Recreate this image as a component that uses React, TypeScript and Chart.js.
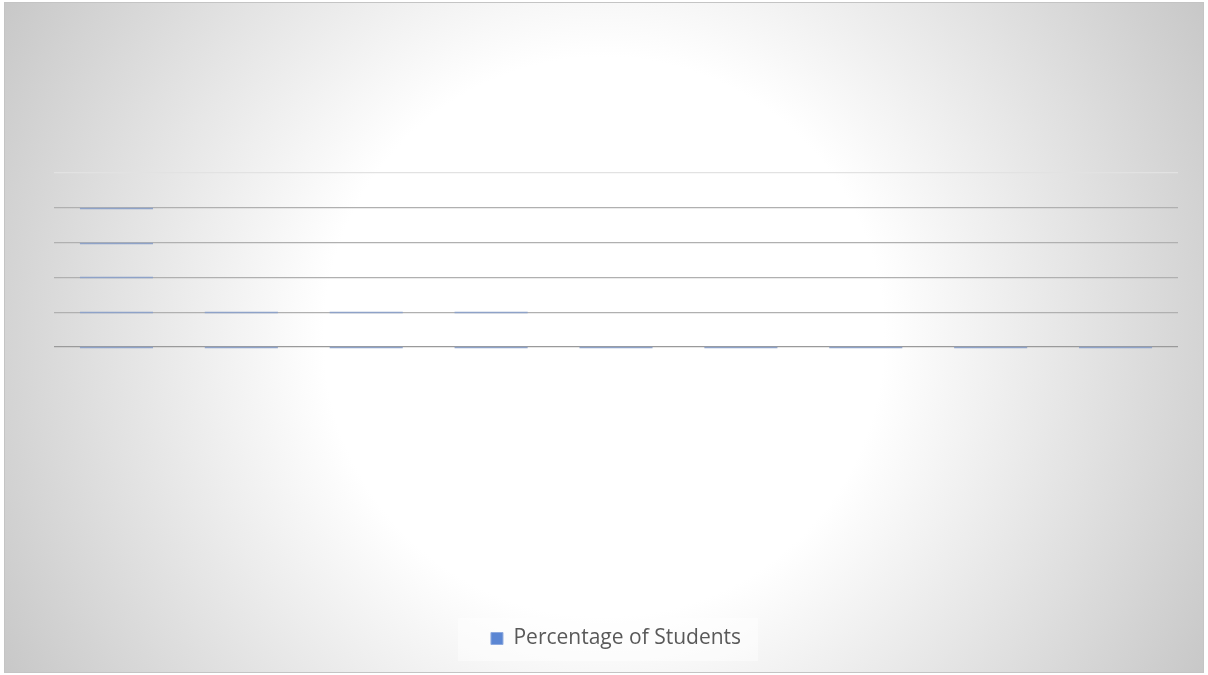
import React, { useEffect, useRef } from "react";
import { Chart, registerables } from "chart.js";

Chart.register(...registerables);

const categories = ["Cat 1", "Cat 2", "Cat 3", "Cat 4", "Cat 5", "Cat 6", "Cat 7", "Cat 8", "Cat 9"];
const seriesLabel = "Percentage of Students";
const percentages = [44, 14, 13, 12, 6, 5, 4, 3, 2];
const yTicks = [0, 10, 20, 30, 40, 50];

const backgroundPlugin = {
  id: "bgPlugin",
  beforeDraw(chart: any) {
    const { ctx, width, height } = chart;
    ctx.save();
    ctx.fillStyle = "#ffffff";
    ctx.fillRect(0, 0, width, height);
    const g = ctx.createRadialGradient(604, 337, 0, 604, 337, 700);
    g.addColorStop(0, "#ffffff");
    g.addColorStop(0.4, "#ffffff");
    g.addColorStop(1, "#c6c6c6");
    ctx.fillStyle = g;
    ctx.fillRect(4, 2, 1200, 671);
    ctx.strokeStyle = "#c4c4c4";
    ctx.lineWidth = 1;
    ctx.strokeRect(4.5, 2.5, 1199, 670);
    const lg = chart.legend;
    if (lg && lg.legendHitBoxes && lg.legendHitBoxes.length) {
      const hb = lg.legendHitBoxes[0];
      ctx.fillStyle = "rgba(255,255,255,0.45)";
      ctx.fillRect(hb.left - 33, hb.top - 10, hb.width + 50, hb.height + 22);
    }
    ctx.restore();
  },
};

const stripePlugin = {
  id: "stripePlugin",
  afterDatasetsDraw(chart: any) {
    const { ctx } = chart;
    const yScale = chart.scales.y;
    const meta = chart.getDatasetMeta(0);
    const zeroPx = yScale.getPixelForValue(0);
    ctx.save();
    ctx.strokeStyle = "#8ea2c8";
    ctx.lineWidth = 1.5;
    meta.data.forEach((bar: any) => {
      const x = bar.x;
      const y = bar.y;
      const w = bar.width;
      yTicks.forEach((v) => {
        const raw = yScale.getPixelForValue(v);
        if (raw >= y - 0.5 && raw <= zeroPx + 0.5) {
          const py = Math.round(raw) + 0.5;
          ctx.beginPath();
          ctx.moveTo(x - w / 2, py);
          ctx.lineTo(x + w / 2, py);
          ctx.stroke();
        }
      });
    });
    ctx.restore();
  },
};

export default function App() {
  const ref = useRef<HTMLCanvasElement | null>(null);
  useEffect(() => {
    if (!ref.current) return;
    const chart = new Chart(ref.current, {
      type: "bar",
      data: {
        labels: categories,
        datasets: [
          {
            label: seriesLabel,
            data: percentages,
            backgroundColor: "rgba(0,0,0,0)",
            borderWidth: 0,
            barPercentage: 0.585,
            categoryPercentage: 1,
          },
        ],
      },
      options: {
        responsive: false,
        animation: false,
        layout: { padding: { left: 54, right: 30, top: 173, bottom: 16 } },
        plugins: {
          tooltip: { enabled: false },
          legend: {
            position: "bottom",
            labels: {
              boxWidth: 12,
              boxHeight: 12,
              padding: 10,
              color: "#595959",
              font: { family: "'Open Sans', sans-serif", size: 21 },
              generateLabels: () => [
                {
                  text: seriesLabel,
                  fillStyle: "#5b86d3",
                  strokeStyle: "#8eaadf",
                  lineWidth: 1,
                  hidden: false,
                  datasetIndex: 0,
                  fontColor: "#595959",
                } as any,
              ],
            },
          },
        },
        scales: {
          x: {
            grid: { display: false },
            border: { display: false },
            ticks: { display: false },
            afterFit: (scale: any) => {
              scale.height = 271;
            },
          },
          y: {
            min: 0,
            max: 50,
            ticks: { display: false, stepSize: 10 },
            border: { display: false },
            grid: {
              drawTicks: false,
              lineWidth: 1.3,
              color: (c: any) => {
                const v = c.tick ? c.tick.value : 0;
                if (v === 0) return "#9a9a9a";
                if (v === 50) return "#e2e2e2";
                return "#b0b0b0";
              },
            },
            afterFit: (scale: any) => {
              scale.width = 0;
            },
          },
        },
      },
      plugins: [backgroundPlugin, stripePlugin],
    });
    return () => chart.destroy();
  }, []);
  return (
    <div style={{ position: "absolute", left: 0, top: 0, width: 1208, height: 675 }}>
      <canvas ref={ref} width={1208} height={675} style={{ display: "block" }} />
    </div>
  );
}
